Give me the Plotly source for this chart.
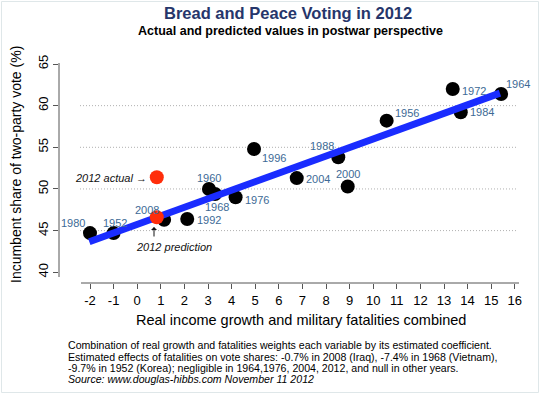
import plotly.graph_objects as go

# ---------------- data ----------------
years = ["1980", "1952", "2008", "1992", "1960", "1968", "1976", "1996",
         "2004", "2000", "1988", "1956", "1972", "1984", "1964"]
x_combined = [-2.0, -1.0, 1.14, 2.12, 3.04, 3.30, 4.17, 4.95,
              6.76, 8.92, 8.52, 10.57, 13.37, 13.71, 15.42]
vote_share = [44.7, 44.7, 46.3, 46.4, 50.0, 49.4, 49.0, 54.8,
              51.3, 50.3, 53.8, 58.2, 62.0, 59.2, 61.4]

fit_x = [-2.03, 15.37]
fit_y = [43.67, 61.5]

x2012 = 0.83
actual_2012 = 51.4
predicted_2012 = 46.6

x_ticks = list(range(-2, 17))
y_ticks = [40, 45, 50, 55, 60, 65]
grid_y = [45, 50, 55, 60]

# label offsets (px) relative to each point: (dx, dy) screen coords, dy down
label_offsets = [(-17, -10), (1, -10), (-17, -10), (22, 1), (0, -11), (2, 13),
                 (21, 3), (20, 9), (21, 1), (0, -12), (-16, -11), (20, -8),
                 (21, 2), (21, 0), (17, -10)]

# ---------------- geometry ----------------
W, H = 542, 395
L, R, T, B = 59, 519, 60, 283          # plot area in px
PX_PER_X = 23.6
PX_PER_Y = 8.33
X_AT_90 = -2.0                          # x=-2 at px 90
Y_AT_64 = 65.0                          # y=65 at px 64

x_range = [X_AT_90 - (90 - L) / PX_PER_X, X_AT_90 + (R - 90) / PX_PER_X]
y_range = [Y_AT_64 - (B - 64) / PX_PER_Y, Y_AT_64 + (64 - T) / PX_PER_Y]


def px_x(px):
    return X_AT_90 + (px - 90) / PX_PER_X


def px_y(py):
    return Y_AT_64 - (py - 64) / PX_PER_Y


def paper_x(px):
    return (px - L) / (R - L)


def paper_y(py):
    return (B - py) / (B - T)


FONT = "Liberation Sans, Arial, Helvetica, sans-serif"
LABEL_COLOR = "#3d6a96"
RED = "#ff2d0a"
BLUE = "#1a2cff"
AXIS_COLOR = "#555555"

fig = go.Figure()

# black points
fig.add_trace(go.Scatter(
    x=x_combined, y=vote_share, mode="markers",
    marker=dict(color="black", size=14),
    hoverinfo="skip", showlegend=False))

# fitted line
fig.add_trace(go.Scatter(
    x=fit_x, y=fit_y, mode="lines",
    line=dict(color=BLUE, width=7),
    hoverinfo="skip", showlegend=False))

# 2012 points
fig.add_trace(go.Scatter(
    x=[x2012, x2012], y=[actual_2012, predicted_2012], mode="markers",
    marker=dict(color=RED, size=14),
    hoverinfo="skip", showlegend=False))

annotations = []
for yr, xv, yv, (dx, dy) in zip(years, x_combined, vote_share, label_offsets):
    annotations.append(dict(
        x=xv, y=yv, xref="x", yref="y", text=yr, showarrow=False,
        xshift=dx, yshift=-dy, xanchor="center", yanchor="middle",
        font=dict(family=FONT, size=11, color=LABEL_COLOR)))


def text_ann(px, py, text, size, color="black", angle=0, xanchor="center"):
    return dict(x=paper_x(px), y=paper_y(py), xref="paper", yref="paper",
                text=text, showarrow=False, textangle=angle,
                xanchor=xanchor, yanchor="middle",
                font=dict(family=FONT, size=size, color=color))


annotations += [
    text_ann(110.5, 177.5, "<i>2012 actual →</i>", 11, "#111111"),
    text_ann(173.5, 246.5, "<i>2012 prediction</i>", 11, "#111111"),
    # small up-arrow pointing at the 2012 prediction
    dict(x=paper_x(154), y=paper_y(227), xref="paper", yref="paper",
         text="", showarrow=True, ax=0, ay=11, axref="pixel", ayref="pixel",
         arrowhead=1, arrowsize=1, arrowwidth=1, arrowcolor="#111111",
         standoff=0, startstandoff=0),
    # titles
    text_ann(288, 13.5, "<b>Bread and Peace Voting in 2012</b>", 16.5, "#26366b"),
    text_ann(290, 31.5, "<b>Actual and predicted values in postwar perspective</b>", 12.5),
    # axis titles
    text_ann(301, 320, "Real income growth and military fatalities combined", 14.5),
    text_ann(16, 165, "Incumbent share of two-party vote (%)", 14, angle=-90),
]

foot_lines = [
    "Combination of real growth and fatalities weights each variable by its estimated coefficient.",
    "Estimated effects of fatalities on vote shares: -0.7% in 2008 (Iraq), -7.4% in 1968 (Vietnam),",
    "-9.7% in 1952 (Korea); negligible in 1964,1976, 2004, 2012, and null in other years.",
    "<i>Source: www.douglas-hibbs.com November 11 2012</i>",
]
foot_y = [345, 356.5, 368, 379]
for line, fy in zip(foot_lines, foot_y):
    annotations.append(text_ann(66, fy, line, 10.6, xanchor="left"))

shapes = []
for gy in grid_y:
    shapes.append(dict(type="line", xref="x", yref="y",
                       x0=px_x(80), x1=px_x(517), y0=gy, y1=gy,
                       line=dict(color="#b0b0b0", width=1, dash="1px,2px"),
                       layer="below"))
# axis lines
shapes.append(dict(type="line", xref="x", yref="paper",
                   x0=px_x(81), x1=px_x(519), y0=0, y1=0,
                   line=dict(color=AXIS_COLOR, width=1)))
shapes.append(dict(type="line", xref="paper", yref="y",
                   x0=0, x1=0, y0=px_y(277), y1=px_y(63),
                   line=dict(color=AXIS_COLOR, width=1)))
# faint frame
shapes.append(dict(type="rect", xref="paper", yref="paper",
                   x0=paper_x(1.5), x1=paper_x(538.5),
                   y0=paper_y(392.5), y1=paper_y(1.5),
                   line=dict(color="#dfe7e9", width=1)))

fig.update_layout(
    width=W, height=H, autosize=False,
    margin=dict(l=L, r=W - R, t=T, b=H - B, pad=0),
    paper_bgcolor="white", plot_bgcolor="white",
    showlegend=False,
    font=dict(family=FONT, size=13, color="black"),
    xaxis=dict(range=x_range, tickmode="array", tickvals=x_ticks,
               ticktext=[str(v) for v in x_ticks],
               showgrid=False, zeroline=False, showline=False,
               ticks="outside", ticklen=5, tickcolor=AXIS_COLOR,
               tickfont=dict(family=FONT, size=13, color="black"),
               fixedrange=True),
    yaxis=dict(range=y_range, tickmode="array", tickvals=y_ticks,
               ticktext=[str(v) for v in y_ticks], tickangle=-90,
               showgrid=False, zeroline=False, showline=False,
               ticks="outside", ticklen=5, tickcolor=AXIS_COLOR,
               tickfont=dict(family=FONT, size=13, color="black"),
               fixedrange=True),
    annotations=annotations,
    shapes=shapes,
)

fig.write_html(
    "out.html",
    config={"displayModeBar": False},
    post_script="document.body.style.margin='0px';document.body.style.overflow='hidden';",
)
